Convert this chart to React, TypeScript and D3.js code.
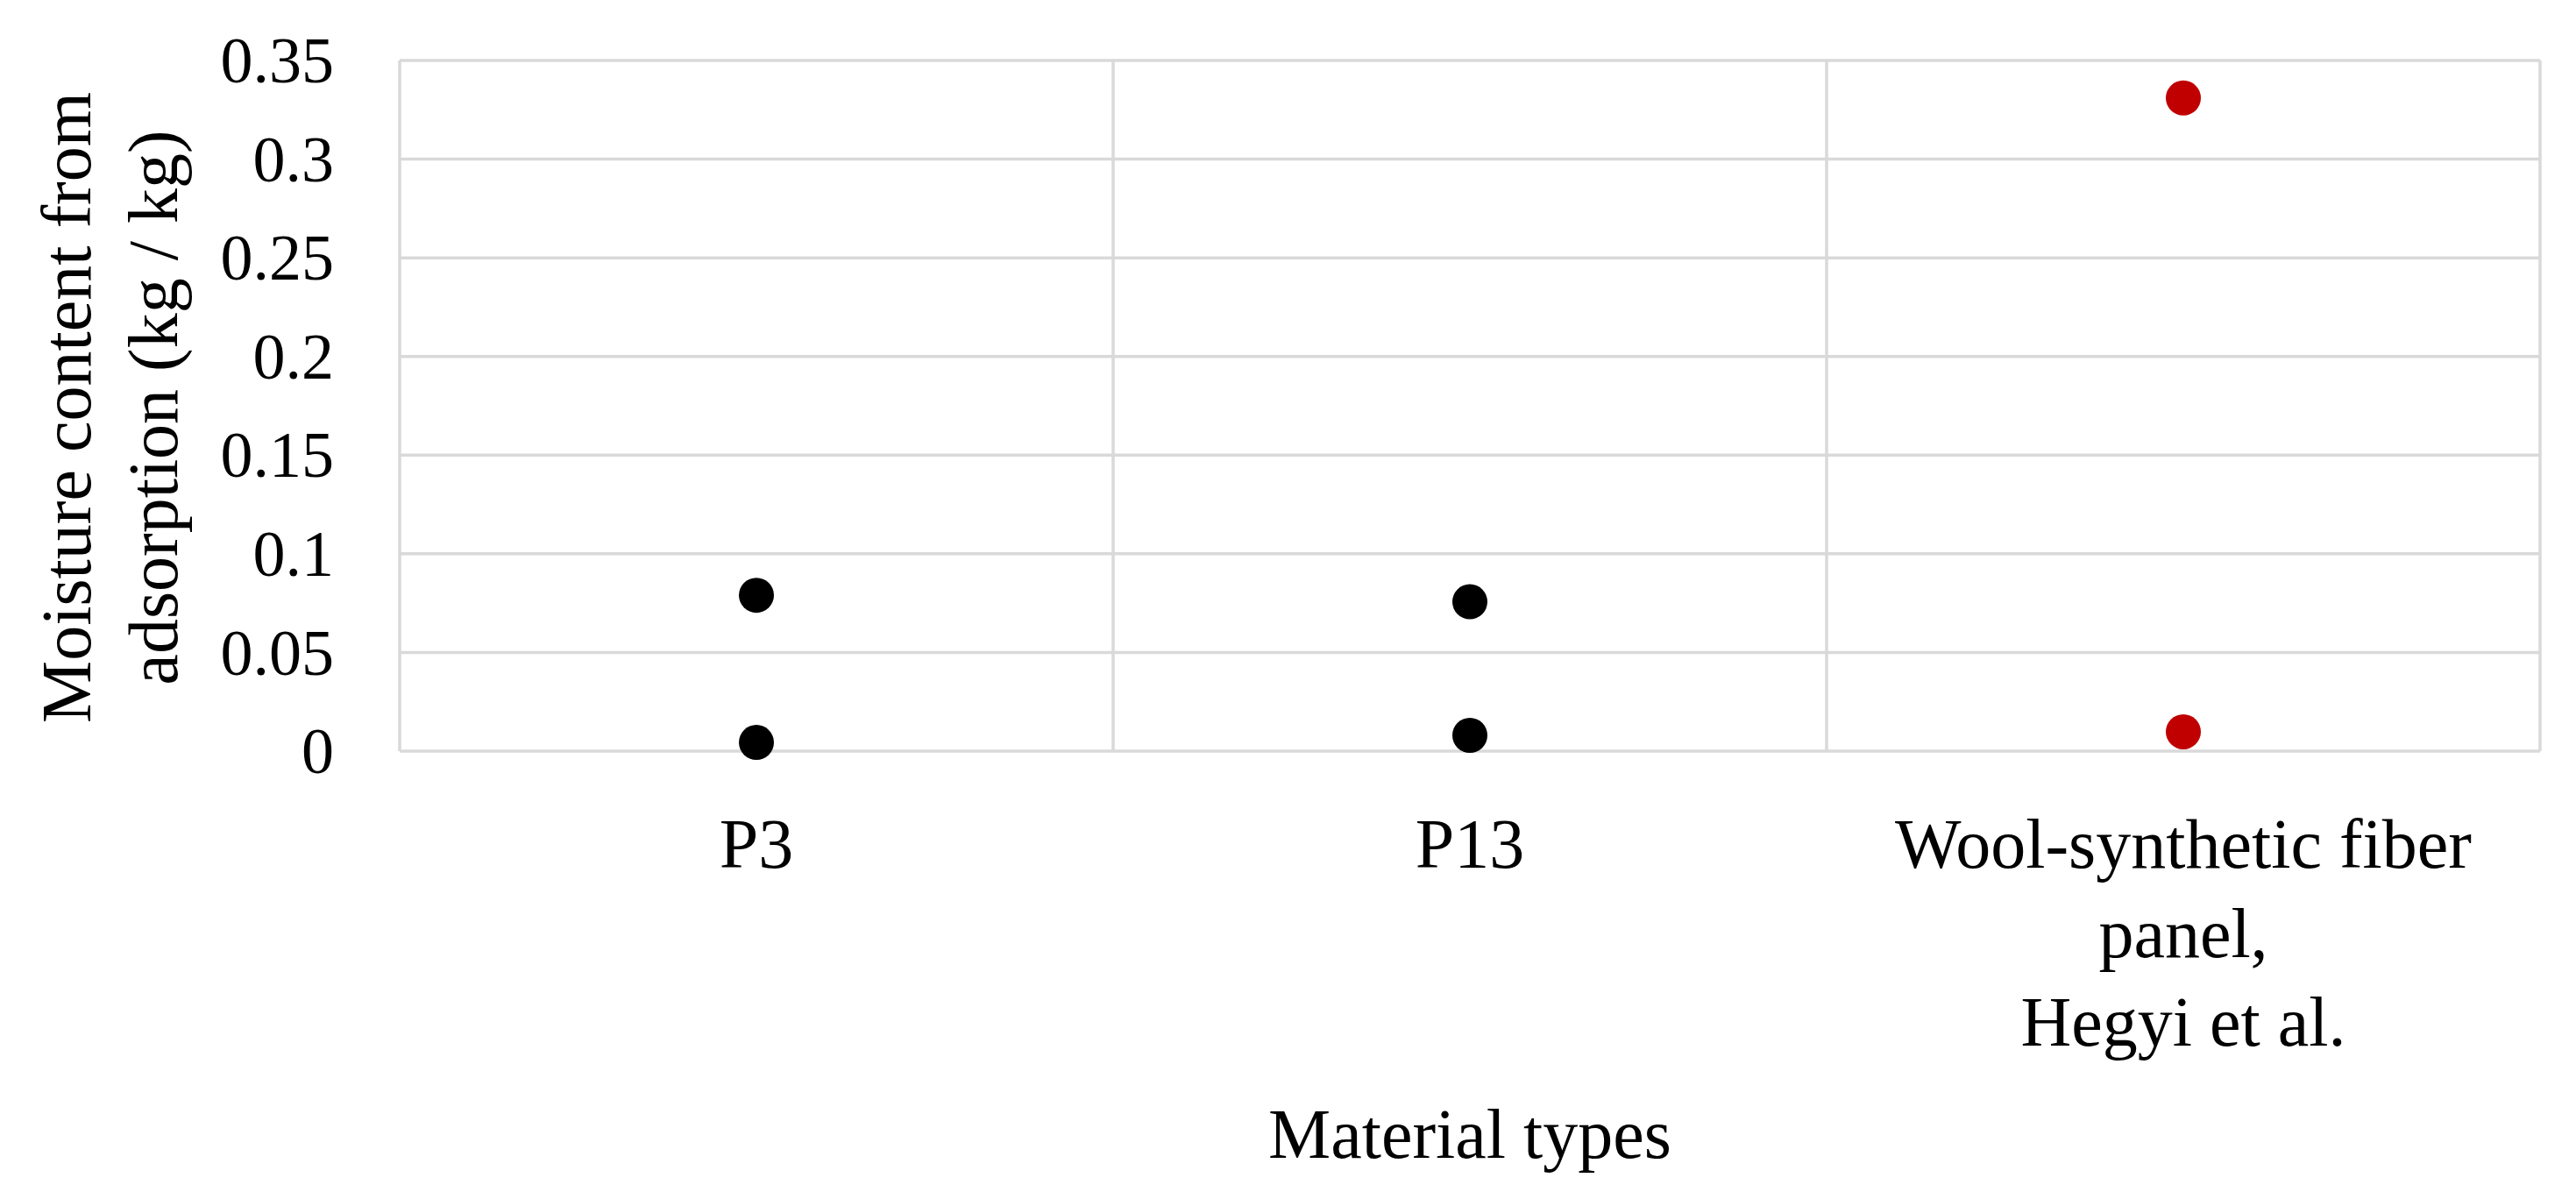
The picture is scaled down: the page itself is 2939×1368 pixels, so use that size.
import React, { useEffect, useRef } from 'react';
import * as d3 from 'd3';

// Material types on the x axis (label lines as printed)
const materials = ['P3', 'P13', 'Wool-synthetic fiber panel, Hegyi et al.'];
const materialLabelLines = [['P3'], ['P13'], ['Wool-synthetic fiber', 'panel,', 'Hegyi et al.']];

// Moisture content from adsorption (kg / kg), two readings per material
const moistureHigh = [0.079, 0.0757, 0.331];
const moistureLow = [0.0044, 0.008, 0.0098];
const pointColors = ['#000000', '#000000', '#C00000'];

const yTickValues = [0, 0.05, 0.1, 0.15, 0.2, 0.25, 0.3, 0.35];
const yTickLabels = ['0', '0.05', '0.1', '0.15', '0.2', '0.25', '0.3', '0.35'];

const yTitleLines = ['Moisture content from', 'adsorption (kg / kg)'];
const xTitle = 'Material types';

const FONT = '"Liberation Serif", "Times New Roman", serif';

export default function App() {
  const svgRef = useRef<SVGSVGElement>(null);

  useEffect(() => {
    document.body.style.margin = '0';
    if (!svgRef.current) return;

    const width = 2939;
    const height = 1368;
    const margin = { top: 69, right: 41, bottom: 511, left: 456 };

    const svg = d3.select(svgRef.current);
    svg.selectAll('*').remove();
    svg.attr('width', width).attr('height', height);

    svg.append('rect').attr('width', width).attr('height', height).attr('fill', '#ffffff');

    const x = d3.scaleBand<string>()
      .domain(materials)
      .range([margin.left, width - margin.right])
      .paddingInner(0)
      .paddingOuter(0);

    const y = d3.scaleLinear()
      .domain([0, 0.35])
      .range([height - margin.bottom, margin.top]);

    const gridColor = '#D9D9D9';
    const gridWidth = 3.5;

    // horizontal gridlines
    svg.append('g')
      .selectAll('line')
      .data(yTickValues)
      .join('line')
        .attr('x1', margin.left)
        .attr('x2', width - margin.right)
        .attr('y1', d => y(d))
        .attr('y2', d => y(d))
        .attr('stroke', gridColor)
        .attr('stroke-width', gridWidth);

    // vertical gridlines at category edges
    const edges = [...materials.map(m => x(m) as number), x.range()[1]];
    svg.append('g')
      .selectAll('line')
      .data(edges)
      .join('line')
        .attr('x1', d => d)
        .attr('x2', d => d)
        .attr('y1', y(0.35))
        .attr('y2', y(0))
        .attr('stroke', gridColor)
        .attr('stroke-width', gridWidth);

    // y tick labels
    svg.append('g')
      .selectAll('text')
      .data(yTickValues)
      .join('text')
        .attr('x', 381)
        .attr('y', d => y(d))
        .attr('dy', '0.34em')
        .attr('text-anchor', 'end')
        .style('font-family', FONT)
        .style('font-size', '74px')
        .style('fill', '#000')
        .text((d, i) => yTickLabels[i]);

    // category labels
    const catG = svg.append('g');
    materials.forEach((m, i) => {
      const t = catG.append('text')
        .attr('x', (x(m) as number) + x.bandwidth() / 2)
        .attr('y', 990)
        .attr('text-anchor', 'middle')
        .style('font-family', FONT)
        .style('font-size', '80px')
        .style('fill', '#000');
      materialLabelLines[i].forEach((line, j) => {
        t.append('tspan')
          .attr('x', (x(m) as number) + x.bandwidth() / 2)
          .attr('dy', j === 0 ? 0 : 101.5)
          .text(line);
      });
    });

    // points
    const points = materials.flatMap((m, i) => [
      { material: m, value: moistureHigh[i], color: pointColors[i] },
      { material: m, value: moistureLow[i], color: pointColors[i] },
    ]);

    svg.append('g')
      .selectAll('circle')
      .data(points)
      .join('circle')
        .attr('cx', d => (x(d.material) as number) + x.bandwidth() / 2)
        .attr('cy', d => y(d.value))
        .attr('r', 20)
        .style('fill', d => d.color);

    // x axis title
    svg.append('text')
      .attr('x', (margin.left + width - margin.right) / 2)
      .attr('y', 1321)
      .attr('text-anchor', 'middle')
      .style('font-family', FONT)
      .style('font-size', '80px')
      .style('fill', '#000')
      .text(xTitle);

    // y axis title (two lines)
    const yMid = (y(0) + y(0.35)) / 2 + 2;
    const yTitle = svg.append('text')
      .attr('transform', `translate(103,${yMid}) rotate(-90)`)
      .attr('text-anchor', 'middle')
      .style('font-family', FONT)
      .style('font-size', '80px')
      .style('fill', '#000');
    yTitleLines.forEach((line, j) => {
      yTitle.append('tspan')
        .attr('x', 0)
        .attr('dy', j === 0 ? 0 : 99)
        .text(line);
    });
  }, []);

  return <svg ref={svgRef} style={{ display: 'block' }}></svg>;
}
